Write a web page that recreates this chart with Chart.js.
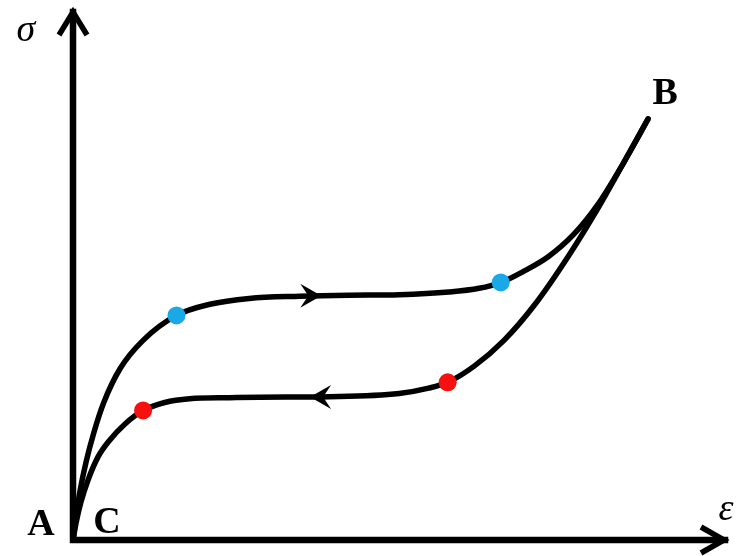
<!DOCTYPE html>
<html>
<head>
  <meta charset="utf-8">
  <title>Superelastic loop</title>
  <script src="https://cdn.jsdelivr.net/npm/chart.js"></script>
  <style>
    body { margin: 0; background: #fff; }
    #wrap { width: 737px; height: 556px; }
  </style>
</head>
<body>
  <div id="wrap"><canvas id="loop"></canvas></div>

  <script>
    // loading branch A -> B (strain, stress in arbitrary units 0..100)
    const loadStrain = [0, 0.5, 1.1, 2.0, 3.2, 4.7, 7.2, 10.7, 15.8, 20.9, 26.9, 34.6, 42.2, 49.8, 57.4, 62.0, 65.3, 68.8, 72.6, 76.4, 80.2, 84.0, 87.8];
    const loadStress = [0, 4.7, 9.4, 14.7, 20.3, 25.9, 32.3, 37.6, 42.3, 44.4, 45.5, 45.9, 46.1, 46.2, 46.7, 47.4, 48.5, 50.6, 53.4, 57.5, 63.3, 70.9, 79.3];

    // unloading branch B -> C
    const unloadStrain = [0, 0.5, 1.2, 2.3, 3.8, 5.6, 7.9, 10.7, 14.0, 17.8, 23.9, 28.5, 39.1, 49.8, 54.3, 57.2, 61.2, 65.8, 70.6, 75.6, 80.2, 84.0, 87.8];
    const unloadStress = [0, 3.4, 7.1, 11.3, 15.6, 18.8, 21.8, 24.4, 25.9, 26.6, 26.8, 26.9, 27.0, 27.6, 28.6, 29.7, 32.7, 37.6, 44.5, 53.4, 62.6, 70.9, 79.3];

    // transformation start / finish points
    const bluePts = [[15.8, 42.3], [65.3, 48.5]];
    const redPts = [[10.7, 24.4], [57.2, 29.7]];

    // direction arrows on the plateaus: [strain, stress, direction]
    const flowArrows = [[37.6, 46.0, 1], [36.5, 26.95, -1]];

    // point labels: [text, strain, stress]
    const pointLabels = [['A', -4.9, 0.9], ['C', 5.2, 1.3], ['B', 90.4, 82.1]];
    const axisLabels = [['\u03c3', -7.2, 94.0], ['\u03b5', 99.7, 3.8]];

    const toXY = (xs, ys) => xs.map((x, i) => ({ x: x, y: ys[i] }));

    const drawing = {
      id: 'drawing',
      beforeDatasetsDraw(chart) {
        const c = chart.ctx, sx = chart.scales.x, sy = chart.scales.y;
        const x0 = sx.getPixelForValue(0), y0 = sy.getPixelForValue(0);
        const xEnd = sx.getPixelForValue(100), yEnd = sy.getPixelForValue(100);
        c.save();
        c.strokeStyle = '#000';
        c.lineWidth = 6.5;
        c.lineCap = 'square';
        c.beginPath();
        c.moveTo(x0, yEnd + 3);
        c.lineTo(x0, y0);
        c.lineTo(xEnd - 3, y0);
        c.stroke();
        c.lineCap = 'butt';
        c.lineJoin = 'miter';
        c.lineWidth = 5.5;
        c.beginPath();
        c.moveTo(x0 - 14, yEnd + 26);
        c.lineTo(x0, yEnd + 3);
        c.lineTo(x0 + 14, yEnd + 26);
        c.moveTo(xEnd - 27, y0 - 13);
        c.lineTo(xEnd - 4, y0);
        c.lineTo(xEnd - 27, y0 + 13);
        c.stroke();
        c.restore();
      },
      afterDatasetsDraw(chart) {
        const c = chart.ctx, sx = chart.scales.x, sy = chart.scales.y;
        c.save();
        c.fillStyle = '#000';
        flowArrows.forEach(a => {
          const px = sx.getPixelForValue(a[0]), py = sy.getPixelForValue(a[1]), d = a[2];
          c.beginPath();
          c.moveTo(px + d * 2, py);
          c.lineTo(px - d * 19, py - 12);
          c.lineTo(px - d * 11, py);
          c.lineTo(px - d * 19, py + 12);
          c.closePath();
          c.fill();
        });
        c.textAlign = 'center';
        c.textBaseline = 'alphabetic';
        c.font = 'bold 38px "Liberation Serif"';
        pointLabels.forEach(l => c.fillText(l[0], sx.getPixelForValue(l[1]), sy.getPixelForValue(l[2])));
        c.font = 'italic 38px "Liberation Serif"';
        axisLabels.forEach(l => c.fillText(l[0], sx.getPixelForValue(l[1]), sy.getPixelForValue(l[2])));
        c.restore();
      }
    };

    new Chart(document.getElementById('loop'), {
      type: 'scatter',
      data: {
        datasets: [
          {
            data: bluePts.map(p => ({ x: p[0], y: p[1] })),
            backgroundColor: '#1aa9e6', borderWidth: 0, pointRadius: 9, order: 0
          },
          {
            data: redPts.map(p => ({ x: p[0], y: p[1] })),
            backgroundColor: '#f71010', borderWidth: 0, pointRadius: 9, order: 0
          },
          {
            data: toXY(loadStrain, loadStress), showLine: true, pointRadius: 0,
            borderColor: '#000', borderWidth: 5.5, cubicInterpolationMode: 'monotone',
            borderCapStyle: 'round', clip: false, order: 1
          },
          {
            data: toXY(unloadStrain, unloadStress), showLine: true, pointRadius: 0,
            borderColor: '#000', borderWidth: 5.5, cubicInterpolationMode: 'monotone',
            borderCapStyle: 'round', clip: false, order: 1
          }
        ]
      },
      options: {
        responsive: true,
        maintainAspectRatio: false,
        animation: false,
        layout: { padding: { left: 73, right: 7, top: 8, bottom: 16 } },
        scales: {
          x: { type: 'linear', min: 0, max: 100, display: false },
          y: { type: 'linear', min: 0, max: 100, display: false }
        },
        plugins: { legend: { display: false }, tooltip: { enabled: false } }
      },
      plugins: [drawing]
    });
  </script>
</body>
</html>
